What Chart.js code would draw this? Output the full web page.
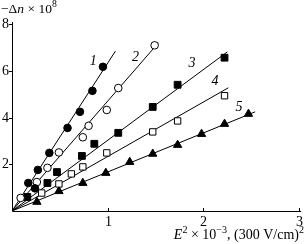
<!DOCTYPE html>
<html>
<head>
<meta charset="utf-8">
<script src="https://cdn.jsdelivr.net/npm/chart.js@4"></script>
<style>
  html, body { margin: 0; padding: 0; background: #fff; }
  #wrap { width: 305px; height: 244px; }
</style>
</head>
<body>
<div id="wrap"><canvas id="kerrChart" width="305" height="244"></canvas></div>
<script>
// tick values
const xTicks = [1, 2, 3];
const yTicks = [2, 4, 6, 8];

// measured points [E^2 x 1e-3, -dn x 1e8]
const s1 = [[0.17, 1.20], [0.24, 0.97], [0.27, 1.76], [0.39, 2.49], [0.58, 3.56], [0.71, 4.25], [0.84, 5.15], [0.95, 6.18]];
const s2 = [[0.09, 0.56], [0.26, 1.24], [0.37, 1.85], [0.49, 2.51], [0.74, 3.16], [0.80, 3.65], [0.99, 4.33], [1.11, 5.27], [1.49, 7.10]];
const s3 = [[0.16, 0.60], [0.37, 1.20], [0.47, 1.67], [0.73, 2.36], [0.86, 2.88], [1.11, 3.35], [1.47, 4.46], [1.73, 5.41], [2.22, 6.57]];
const s4 = [[0.31, 0.77], [0.49, 1.16], [0.62, 1.59], [0.74, 1.89], [0.99, 2.49], [1.47, 3.39], [1.73, 3.86], [2.22, 4.94]];
const s5 = [[0.26, 0.39], [0.49, 0.85], [0.74, 1.20], [0.98, 1.63], [1.23, 2.10], [1.47, 2.45], [1.73, 2.83], [1.98, 3.30], [2.22, 3.73], [2.47, 4.16]];

// straight fits through the origin, end points
const fitEnds = [[1.08, 6.85], [1.53, 7.21], [2.25, 6.82], [2.26, 5.28], [2.54, 4.25]];

// curve numbers and where they sit (data coords)
const curveNames = ['1', '2', '3', '4', '5'];
const curveNamePos = [[0.85, 6.4], [1.29, 6.6], [1.88, 6.35], [2.12, 5.54], [2.37, 4.46]];

const SERIF = '"Liberation Serif", "DejaVu Serif", serif';
const toPts = arr => arr.map(p => ({ x: p[0], y: p[1] }));

const markers = [
    { style: 'circle', fill: '#000', r: 3.8 },
    { style: 'circle', fill: '#fff', r: 3.8 },
    { style: 'rect', fill: '#000', r: 4.8 },
    { style: 'rect', fill: '#fff', r: 4.5 },
    { style: 'triangle', fill: '#000', r: 4.8 }
];

const datasets = [];
[s1, s2, s3, s4, s5].forEach((s, i) => {
    datasets.push({
        data: toPts(s),
        showLine: false,
        pointStyle: markers[i].style,
        pointRadius: markers[i].r,
        pointBackgroundColor: markers[i].fill,
        pointBorderColor: '#000',
        pointBorderWidth: 1,
        order: 1
    });
    datasets.push({
        data: [{ x: 0, y: 0 }, { x: fitEnds[i][0], y: fitEnds[i][1] }],
        showLine: true,
        borderColor: '#000',
        borderWidth: 1,
        pointRadius: 0,
        order: 2
    });
});

function drawRich(ctx, parts, x, y, size, alignRight) {
    let w = 0;
    const fontOf = p => (p.it ? 'italic ' : '') + (p.sup ? size * 0.72 : size) + 'px ' + SERIF;
    parts.forEach(p => { ctx.font = fontOf(p); w += ctx.measureText(p.t).width; });
    let cx = alignRight ? x - w : x;
    parts.forEach(p => {
        ctx.font = fontOf(p);
        ctx.fillText(p.t, cx, p.sup ? y - size * 0.42 : y);
        cx += ctx.measureText(p.t).width;
    });
}

const axesPlugin = {
    id: 'axesPlugin',
    afterDraw(chart) {
        const ctx = chart.ctx;
        const xs = chart.scales.x, ys = chart.scales.y;
        const a = chart.chartArea;
        const x0 = xs.getPixelForValue(0), y0 = ys.getPixelForValue(0);
        ctx.save();
        ctx.strokeStyle = '#000';
        ctx.fillStyle = '#000';
        ctx.lineWidth = 1;
        ctx.beginPath();
        ctx.moveTo(x0 + 0.5, a.top);
        ctx.lineTo(x0 + 0.5, y0 + 0.5);
        ctx.lineTo(a.right + 2, y0 + 0.5);
        ctx.stroke();

        ctx.font = '14px ' + SERIF;
        ctx.textBaseline = 'middle';
        ctx.textAlign = 'right';
        yTicks.forEach(v => {
            const py = Math.round(ys.getPixelForValue(v)) + 0.5;
            ctx.beginPath();
            ctx.moveTo(x0 - 3, py);
            ctx.lineTo(x0 + 0.5, py);
            ctx.stroke();
            ctx.fillText(String(v), x0 - 3, py);
        });
        ctx.textAlign = 'center';
        xTicks.forEach(v => {
            const px = Math.round(xs.getPixelForValue(v)) + 0.5;
            ctx.beginPath();
            ctx.moveTo(px, y0 - 3);
            ctx.lineTo(px, y0 + 0.5);
            ctx.stroke();
            ctx.fillText(String(v), px, y0 + 11);
        });

        // curve numbers
        ctx.font = 'italic 14px ' + SERIF;
        curveNames.forEach((n, i) => {
            ctx.fillText(n, xs.getPixelForValue(curveNamePos[i][0]), ys.getPixelForValue(curveNamePos[i][1]));
        });

        // axis titles
        ctx.textAlign = 'left';
        ctx.textBaseline = 'alphabetic';
        drawRich(ctx, [
            { t: '\u2212\u0394' }, { t: 'n', it: true }, { t: ' \u00d7 10' }, { t: '8', sup: true }
        ], 1, 13, 13.5, false);
        drawRich(ctx, [
            { t: 'E', it: true }, { t: '2', sup: true }, { t: ' \u00d7 10' }, { t: '\u22123', sup: true },
            { t: ', (300 V/cm)' }, { t: '2', sup: true }
        ], 304, 239, 14, true);
        ctx.restore();
    }
};

new Chart(document.getElementById('kerrChart').getContext('2d'), {
    type: 'scatter',
    data: { datasets: datasets },
    options: {
        responsive: false,
        animation: false,
        layout: { padding: { left: 12, top: 22, right: 3, bottom: 33 } },
        plugins: { legend: { display: false }, tooltip: { enabled: false } },
        scales: {
            x: { type: 'linear', min: 0, max: 3, display: false },
            y: { type: 'linear', min: 0, max: 8.1, display: false }
        }
    },
    plugins: [axesPlugin]
});
</script>
</body>
</html>
